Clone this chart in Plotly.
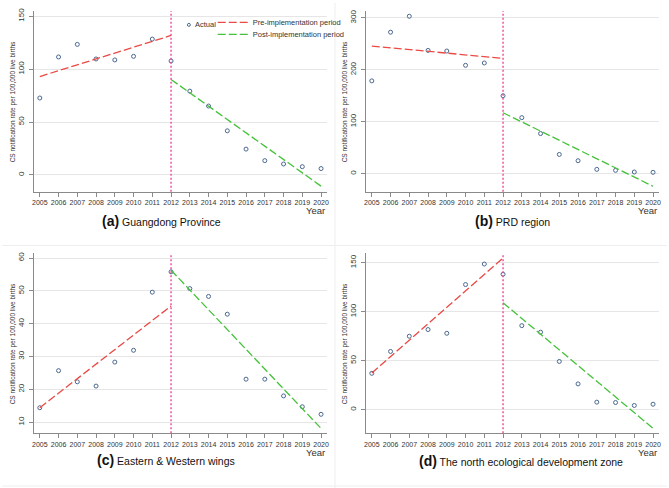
import plotly.graph_objects as go

W, H = 669, 488

years = [2005, 2006, 2007, 2008, 2009, 2010, 2011, 2012,
         2013, 2014, 2015, 2016, 2017, 2018, 2019, 2020]

guangdong = [72.7, 111.5, 123.4, 109.6, 108.7, 112.1, 128.4, 107.7,
             79.2, 65.1, 41.7, 24.4, 13.5, 10.3, 7.8, 6.0]
prd = [178.7, 272.5, 303.2, 237.4, 236.2, 208.7, 213.2, 150.0,
       107.9, 77.2, 37.0, 24.9, 8.3, 6.4, 3.2, 2.6]
wings = [14.4, 25.7, 22.3, 21.0, 28.3, 31.9, 49.6, 55.8,
         50.7, 48.3, 42.9, 23.1, 23.1, 18.0, 14.7, 12.4]
north = [37.2, 59.5, 75.0, 81.8, 78.0, 127.7, 148.6, 138.2,
         85.8, 79.1, 49.3, 26.4, 7.8, 7.4, 4.4, 5.7]

pre_years = [2005, 2012]
post_years = [2012, 2020]
policy_year = 2012

gd_pre = [93.0, 131.8]
gd_post = [90.2, -10.6]
prd_pre = [245.7, 222.1]
prd_post = [117.4, -24.3]
wings_pre = [14.4, 45.4]
wings_post = [56.3, 8.1]
north_pre = [37.5, 154.7]
north_post = [109.1, -18.9]

gd_ticks = [0, 50, 100, 150]
prd_ticks = [0, 100, 200, 300]
wings_ticks = [10, 20, 30, 40, 50, 60]
north_ticks = [0, 50, 100, 150]

panel_letters = ["(a)", "(b)", "(c)", "(d)"]
panel_names = ["Guangdong Province", "PRD region", "Eastern & Western wings",
               "The north ecological development zone"]

y_title = "CS notification rate per 100,000 live births"
x_title = "Year"
legend_labels = ["Actual", "Pre-implementation period", "Post-implementation period"]

FONT = "Arial, Liberation Sans, sans-serif"
TXT = "#333333"
AXC = "#8a8a8a"
MARK = "#4a6890"
RED = "#ea4a45"
GREEN = "#45c23a"
PINK = "#f0449a"

panels = [
    dict(y=guangdong, pre=gd_pre, post=gd_post, ticks=gd_ticks, rng=[-16, 155],
         px=(32, 327), py=(8, 190)),
    dict(y=prd, pre=prd_pre, post=prd_post, ticks=prd_ticks, rng=[-35, 313.4],
         px=(366, 661), py=(8, 190)),
    dict(y=wings, pre=wings_pre, post=wings_post, ticks=wings_ticks, rng=[6.6, 61.4],
         px=(32, 327), py=(252, 433)),
    dict(y=north, pre=north_pre, post=north_post, ticks=north_ticks, rng=[-24, 159.4],
         px=(366, 661), py=(252, 433)),
]

fig = go.Figure()
shapes = []
annotations = []

for i, p in enumerate(panels):
    n = "" if i == 0 else str(i + 1)
    xa, ya = "x" + n, "y" + n
    fig.add_trace(go.Scatter(
        x=years, y=p["y"], mode="markers", xaxis=xa, yaxis=ya,
        marker=dict(symbol="circle-open", size=4, color=MARK, line=dict(width=1, color=MARK)),
        name=legend_labels[0], showlegend=False))
    fig.add_trace(go.Scatter(
        x=pre_years, y=p["pre"], mode="lines", xaxis=xa, yaxis=ya,
        line=dict(color=RED, width=1.3, dash="8px,3px"),
        name=legend_labels[1], showlegend=(i == 0), legend="legend2"))
    fig.add_trace(go.Scatter(
        x=post_years, y=p["post"], mode="lines", xaxis=xa, yaxis=ya,
        line=dict(color=GREEN, width=1.3, dash="8px,3px"),
        name=legend_labels[2], showlegend=(i == 0), legend="legend3"))

    x0, x1 = p["px"]
    y0, y1 = p["py"]
    fig.update_layout(**{
        "xaxis" + n: dict(
            domain=[x0 / W, x1 / W], anchor=ya, range=[2004.68, 2020.32],
            tickmode="array", tickvals=years, ticktext=[str(v) for v in years],
            ticks="outside", ticklen=4, tickcolor=AXC, tickwidth=1,
            showline=True, linecolor=AXC, linewidth=1, showgrid=False, zeroline=False,
            tickfont=dict(size=7, color=TXT, family=FONT)),
        "yaxis" + n: dict(
            domain=[1 - y1 / H, 1 - y0 / H], anchor=xa, range=p["rng"],
            tickmode="array", tickvals=p["ticks"], tickangle=-90,
            ticks="outside", ticklen=4, tickcolor=AXC, tickwidth=1, ticklabelstandoff=2,
            showline=True, linecolor=AXC, linewidth=1,
            showgrid=True, gridcolor="#e6e6e6", gridwidth=1, zeroline=False,
            tickfont=dict(size=8, color=TXT, family=FONT)),
    })
    # policy implementation line
    shapes.append(dict(type="line", xref=xa, yref=ya + " domain",
                       x0=policy_year, x1=policy_year, y0=0, y1=1,
                       line=dict(color=PINK, width=1.4, dash="2px,2px")))
    # y-axis title
    annotations.append(dict(
        text=y_title, textangle=-90, xref="paper", yref="paper",
        x=(x0 - 21) / W, y=1 - (y0 + y1) / 2 / H, xanchor="center", yanchor="middle",
        showarrow=False, font=dict(size=6.5, color=TXT, family=FONT)))
    # "Year" label
    annotations.append(dict(
        text=x_title, xref="paper", yref="paper",
        x=x1 / W, y=1 - (y1 + 19) / H, xanchor="right", yanchor="middle",
        showarrow=False, font=dict(size=9.5, color=TXT, family=FONT)))

sub_pos = [(160, 219), (514, 219), (165, 460), (522, 461)]
for (cx, cy), letter, name in zip(sub_pos, panel_letters, panel_names):
    annotations.append(dict(
        text="<b><span style='font-size:14px'>" + letter + "</span></b> " + name,
        xref="paper", yref="paper", x=cx / W, y=1 - cy / H,
        xanchor="center", yanchor="middle", showarrow=False,
        font=dict(size=10.5, color="#111111", family=FONT)))

# manual legend entry for "Actual"
shapes.append(dict(type="circle", xref="paper", yref="paper",
                   x0=186.5 / W, x1=189.5 / W, y0=1 - 23.5 / H, y1=1 - 20.5 / H,
                   line=dict(color=MARK, width=1)))
annotations.append(dict(
    text=legend_labels[0], xref="paper", yref="paper", x=192 / W, y=1 - 22 / H,
    xanchor="left", yanchor="middle", showarrow=False,
    font=dict(size=7.5, color=TXT, family=FONT)))

# faint panel frames
shapes.append(dict(type="line", xref="paper", yref="paper", x0=335 / W, x1=335 / W, y0=0, y1=1,
                   line=dict(color="#eeeeee", width=1)))
shapes.append(dict(type="line", xref="paper", yref="paper", x0=0, x1=1, y0=1 - 244 / H, y1=1 - 244 / H,
                   line=dict(color="#eeeeee", width=1)))
shapes.append(dict(type="line", xref="paper", yref="paper", x0=0, x1=1, y0=1 - 486 / H, y1=1 - 486 / H,
                   line=dict(color="#eeeeee", width=1)))

leg_common = dict(xanchor="left", yanchor="top", bgcolor="rgba(0,0,0,0)", borderwidth=0,
                  font=dict(size=7.5, color=TXT, family=FONT), tracegroupgap=0)
fig.update_layout(
    width=W, height=H, margin=dict(l=0, r=0, t=0, b=0),
    paper_bgcolor="white", plot_bgcolor="white",
    font=dict(family=FONT, color=TXT),
    shapes=shapes, annotations=annotations,
    legend2=dict(x=212 / W, y=1 - 5 / H, **leg_common),
    legend3=dict(x=212 / W, y=1 - 17 / H, **leg_common),
)

fig.write_html("out.html", config={"displayModeBar": False},
               post_script="document.body.style.margin='0';document.body.style.overflow='hidden';")
